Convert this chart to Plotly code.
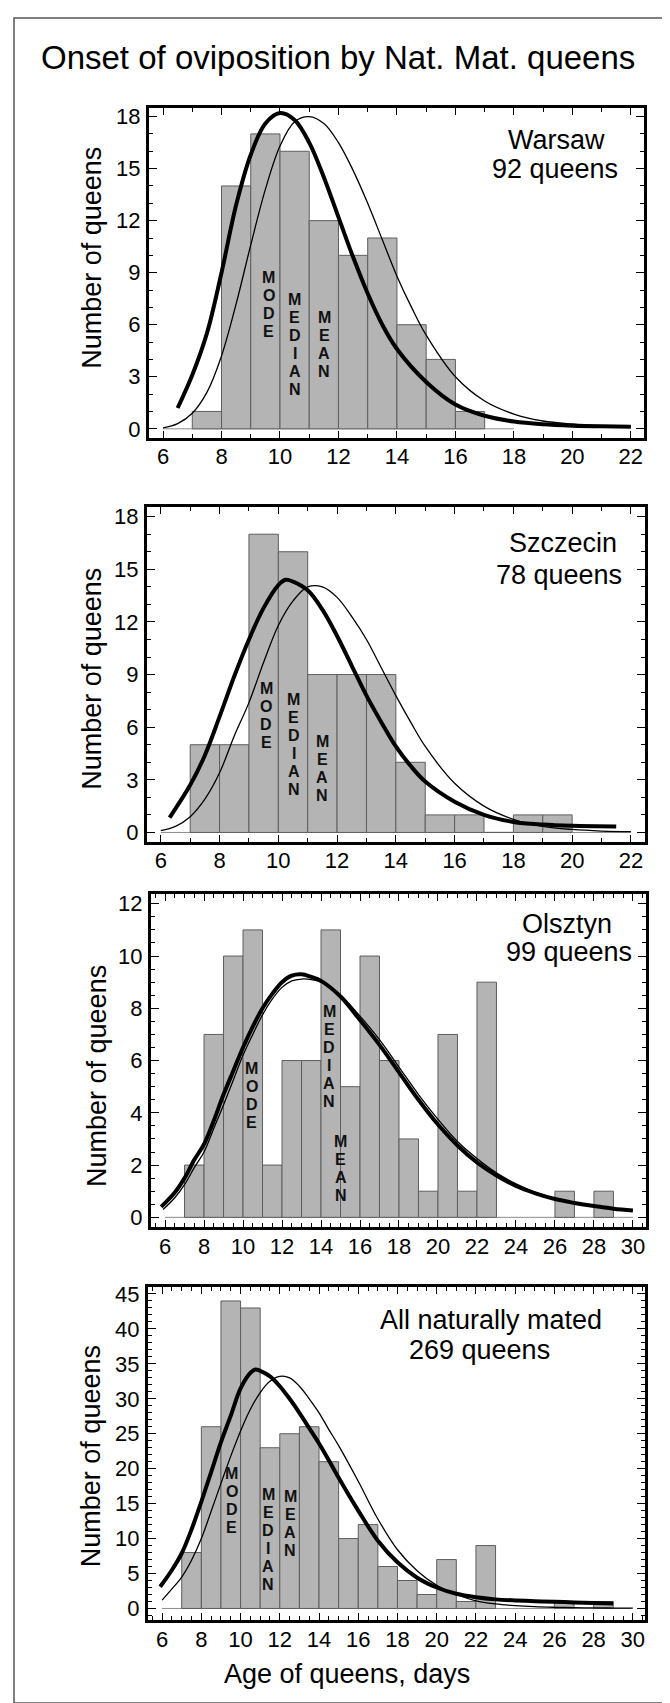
import plotly.graph_objects as go

W, H = 670, 1703
FONT = "Liberation Sans, Arial, Helvetica, sans-serif"

# ---------------- data ----------------
# Panel 1 – Warsaw
warsaw_bin_left = [7, 8, 9, 10, 11, 12, 13, 14, 15, 16]
warsaw_counts = [1, 14, 17, 16, 12, 10, 11, 6, 4, 1]
warsaw_thick_x = [6.5, 7.0, 7.5, 8.0, 8.5, 9.0, 9.5, 10.0, 10.5, 11.0, 11.5, 12.0, 12.5, 13.0,
                  13.5, 14.0, 15.0, 16.0, 17.0, 18.0, 19.0, 20.0, 21.0, 22.0]
warsaw_thick_y = [1.2, 3.1, 5.5, 9.0, 12.9, 15.8, 17.6, 18.2, 17.8, 16.5, 14.5, 12.2, 9.9, 7.8,
                  6.0, 4.6, 2.7, 1.4, 0.75, 0.42, 0.26, 0.18, 0.14, 0.12]
warsaw_thin_x = [6.0, 6.5, 7.0, 7.5, 8.0, 8.5, 9.0, 9.5, 10.0, 10.5, 11.0, 11.5, 12.0, 12.5, 13.0,
                 13.5, 14.0, 14.5, 15.0, 16.0, 17.0, 18.0, 19.0, 20.0, 21.0, 22.0]
warsaw_thin_y = [0.05, 0.3, 0.9, 2.1, 4.2, 7.2, 10.6, 13.8, 16.3, 17.7, 18.0, 17.6, 16.5, 14.9, 13.0,
                 10.9, 8.8, 7.0, 5.4, 3.0, 1.6, 0.85, 0.45, 0.28, 0.18, 0.12]

# Panel 2 – Szczecin
szczecin_bin_left = [7, 8, 9, 10, 11, 12, 13, 14, 15, 16, 17, 18, 19]
szczecin_counts = [5, 5, 17, 16, 9, 9, 9, 4, 1, 1, 0, 1, 1]
szczecin_thick_x = [6.3, 7.0, 7.5, 8.0, 8.5, 9.0, 9.5, 10.0, 10.25, 10.5, 11.0, 11.5, 12.0, 12.5,
                    13.0, 13.5, 14.0, 14.5, 15.0, 16.0, 17.0, 18.0, 19.0, 20.0, 21.5]
szczecin_thick_y = [0.85, 2.7, 4.4, 6.6, 8.9, 11.0, 12.8, 14.1, 14.4, 14.3, 13.8, 12.7, 11.2, 9.5,
                    7.8, 6.3, 4.9, 3.8, 2.9, 1.75, 1.0, 0.6, 0.45, 0.38, 0.34]
szczecin_thin_x = [6.0, 6.5, 7.0, 7.5, 8.0, 8.5, 9.0, 9.5, 10.0, 10.5, 11.0, 11.5, 12.0, 12.5, 13.0,
                   13.5, 14.0, 14.5, 15.0, 16.0, 17.0, 18.0, 19.0, 20.0, 21.0, 22.0]
szczecin_thin_y = [0.1, 0.35, 0.9, 1.9, 3.4, 5.5, 7.4, 9.7, 11.8, 13.2, 14.0, 14.0, 13.4, 12.3, 11.0,
                   9.4, 7.8, 6.3, 4.9, 2.8, 1.5, 0.75, 0.35, 0.17, 0.08, 0.05]

# Panel 3 – Olsztyn
olsztyn_bin_left = [7, 8, 9, 10, 11, 12, 13, 14, 15, 16, 17, 18, 19, 20, 21, 22, 26, 28]
olsztyn_counts = [2, 7, 10, 11, 2, 6, 6, 11, 5, 10, 6, 3, 1, 7, 1, 9, 1, 1]
olsztyn_thick_x = [5.8, 6.5, 7.0, 7.5, 8.0, 8.5, 9.0, 9.5, 10.0, 10.5, 11.0, 11.5, 12.0, 12.5, 13.0,
                   13.5, 14.0, 15.0, 16.0, 17.0, 18.0, 19.0, 20.0, 21.0, 22.0, 23.0, 24.0, 25.0,
                   26.0, 27.0, 28.0, 29.0, 30.0]
olsztyn_thick_y = [0.4, 0.95, 1.5, 2.2, 2.8, 3.7, 4.7, 5.6, 6.5, 7.3, 8.0, 8.55, 9.0, 9.25, 9.3,
                   9.2, 9.05, 8.45, 7.55, 6.6, 5.55, 4.5, 3.55, 2.75, 2.1, 1.6, 1.2, 0.92,
                   0.7, 0.55, 0.43, 0.33, 0.26]
olsztyn_thin_x = [5.9, 6.5, 7.0, 7.5, 8.0, 8.5, 9.0, 9.5, 10.0, 10.5, 11.0, 11.5, 12.0, 12.5, 13.0,
                  13.5, 14.0, 15.0, 16.0, 17.0, 18.0, 19.0, 20.0, 21.0, 22.0, 23.0, 24.0, 25.0,
                  26.0, 27.0, 28.0, 29.0, 30.0]
olsztyn_thin_y = [0.3, 0.75, 1.25, 1.9, 2.5, 3.4, 4.3, 5.25, 6.2, 7.0, 7.75, 8.35, 8.8, 9.05, 9.12,
                  9.1, 9.0, 8.5, 7.7, 6.8, 5.75, 4.7, 3.75, 2.9, 2.25, 1.7, 1.28, 0.96,
                  0.73, 0.56, 0.44, 0.34, 0.27]

# Panel 4 – all naturally mated
all_bin_left = [7, 8, 9, 10, 11, 12, 13, 14, 15, 16, 17, 18, 19, 20, 21, 22, 26, 28]
all_counts = [8, 26, 44, 43, 23, 25, 26, 21, 10, 12, 6, 4, 2, 7, 1, 9, 1, 1]
all_thick_x = [5.9, 6.5, 7.0, 7.5, 8.0, 8.5, 9.0, 9.5, 10.0, 10.5, 10.75, 11.0, 11.5, 12.0, 12.5,
               13.0, 13.5, 14.0, 14.5, 15.0, 16.0, 17.0, 18.0, 19.0, 20.0, 21.0, 22.0, 23.0,
               24.0, 25.0, 26.0, 27.0, 28.0, 29.0]
all_thick_y = [3.1, 5.5, 7.9, 11.3, 15.3, 19.5, 23.8, 27.6, 31.5, 33.7, 34.2, 34.0, 33.2, 31.8, 30.0,
               28.0, 25.8, 23.6, 21.2, 18.7, 14.0, 9.7, 6.6, 4.4, 3.0, 2.1, 1.6, 1.3,
               1.15, 1.05, 0.95, 0.87, 0.79, 0.7]
all_thin_x = [6.0, 6.5, 7.0, 7.5, 8.0, 8.5, 9.0, 9.5, 10.0, 10.5, 11.0, 11.5, 12.0, 12.5, 13.0,
              13.5, 14.0, 14.5, 15.0, 16.0, 17.0, 18.0, 19.0, 20.0, 21.0, 22.0, 23.0, 24.0,
              25.0, 26.0, 27.0, 28.0, 29.0, 30.0]
all_thin_y = [1.2, 2.8, 4.5, 6.9, 10.0, 13.9, 17.9, 21.8, 25.4, 28.5, 30.9, 32.5, 33.2, 33.0, 31.8,
              30.0, 28.0, 25.6, 23.3, 18.2, 12.8, 8.4, 5.4, 3.3, 2.0, 1.1, 0.65, 0.4,
              0.25, 0.17, 0.12, 0.08, 0.06, 0.05]

panel_labels = [["Warsaw", "92 queens"], ["Szczecin", "78 queens"],
                ["Olsztyn", "99 queens"], ["All naturally mated", "269 queens"]]
# label centres in data-x, pixel-y
label_x = [[19.45, 19.42], [19.7, 19.55], [26.6, 26.7], [22.75, 22.2]]
label_py = [[128, 157], [533, 565], [915, 943], [1313, 1343]]
stat_words = ["MODE", "MEDIAN", "MEAN"]
# position (x, y of first letter) of the vertical MODE / MEDIAN / MEAN labels
stat_x = [[9.62, 10.5, 11.51], [9.59, 10.53, 11.5], [10.46, 14.41, 15.01], [9.56, 11.42, 12.54]]
stat_y = [[8.72, 7.48, 6.41], [8.22, 7.56, 5.16], [5.71, 7.87, 2.90], [19.36, 16.37, 16.04]]

title_text = "Onset of oviposition by Nat. Mat. queens"
y_title = "Number of queens"
x_title = "Age of queens, days"

# ---------------- layout geometry (pixels) ----------------
# frame left, right, top, bottom
frames = [(141, 636, 95.7, 427), (139, 637, 496, 833), (143, 638, 885, 1220), (140, 637, 1280, 1615)]
xranges = [[5.52, 22.45], [5.53, 22.48], [5.28, 30.67], [5.28, 30.62]]
yranges = [[-0.53, 18.48], [-0.55, 18.57], [-0.38, 12.38], [-1.71, 46.0]]
ymajor = [3, 3, 2, 5]
yminor = [1, 1, 0.5, 1]
xminor = [1, 1, 0.5, 0.5]
baseline_end = [18, 22, 30, 29.9]
ytitle_pos = [(84, 246), (84, 669), (89, 1068), (83, 1450)]

datasets = [
    (warsaw_bin_left, warsaw_counts, warsaw_thick_x, warsaw_thick_y, warsaw_thin_x, warsaw_thin_y),
    (szczecin_bin_left, szczecin_counts, szczecin_thick_x, szczecin_thick_y, szczecin_thin_x, szczecin_thin_y),
    (olsztyn_bin_left, olsztyn_counts, olsztyn_thick_x, olsztyn_thick_y, olsztyn_thin_x, olsztyn_thin_y),
    (all_bin_left, all_counts, all_thick_x, all_thick_y, all_thin_x, all_thin_y),
]

fig = go.Figure()
annotations = []
shapes = []
layout_axes = {}

for i, (bl, cnt, tkx, tky, tnx, tny) in enumerate(datasets):
    n = "" if i == 0 else str(i + 1)
    xa, ya = "x" + n, "y" + n
    L, R, T, B = frames[i]
    fig.add_trace(go.Bar(x=[b + 0.5 for b in bl], y=cnt, width=1,
                         marker=dict(color="#b4b4b4", line=dict(color="#5e5e5e", width=1)),
                         xaxis=xa, yaxis=ya, hoverinfo="skip"))
    fig.add_trace(go.Scatter(x=tnx, y=tny, mode="lines",
                             line=dict(color="black", width=1.3, shape="spline", smoothing=1.0),
                             xaxis=xa, yaxis=ya))
    fig.add_trace(go.Scatter(x=tkx, y=tky, mode="lines",
                             line=dict(color="black", width=4, shape="spline", smoothing=1.0),
                             xaxis=xa, yaxis=ya))
    common = dict(ticks="inside", tickcolor="black", tickwidth=1, showline=True, linewidth=3,
                  linecolor="black", mirror="allticks", showgrid=False, zeroline=False,
                  tickfont=dict(family=FONT, size=22, color="black"))
    layout_axes["xaxis" + n] = dict(
        domain=[L / W, R / W], range=xranges[i], anchor=ya, tick0=6, dtick=2, ticklen=7,
        ticklabelstandoff=-3,
        minor=dict(tick0=6, dtick=xminor[i], ticks="inside", ticklen=4, tickcolor="black", showgrid=False),
        **common)
    layout_axes["yaxis" + n] = dict(
        domain=[1 - B / H, 1 - T / H], range=yranges[i], anchor=xa, tick0=0, dtick=ymajor[i], ticklen=8,
        ticklabelstandoff=1,
        minor=dict(tick0=0, dtick=yminor[i], ticks="inside", ticklen=4, tickcolor="black", showgrid=False),
        **common)
    # baseline at zero
    shapes.append(dict(type="line", xref=xa, yref=ya, x0=6, x1=baseline_end[i], y0=0, y1=0,
                       line=dict(color="#8a8a8a", width=1), layer="below"))
    # location labels
    for lx, py, txt in zip(label_x[i], label_py[i], panel_labels[i]):
        annotations.append(dict(text=txt, xref=xa, yref="paper", x=lx, y=1 - py / H,
                                xanchor="center", yanchor="middle", showarrow=False,
                                font=dict(family=FONT, size=27, color="black")))
    # MODE / MEDIAN / MEAN vertical labels
    for w, word in enumerate(stat_words):
        for k, ch in enumerate(word):
            annotations.append(dict(text="<b>" + ch + "</b>", xref=xa, yref=ya,
                                    x=stat_x[i][w], y=stat_y[i][w], yshift=-18 * k,
                                    xanchor="center", yanchor="middle", showarrow=False,
                                    font=dict(family=FONT, size=16, color="#111111")))
    # y-axis title
    px, py = ytitle_pos[i]
    annotations.append(dict(text=y_title, xref="paper", yref="paper", x=px / W, y=1 - py / H,
                            xanchor="center", yanchor="middle", textangle=-90, showarrow=False,
                            font=dict(family=FONT, size=27, color="black")))

annotations.append(dict(text=title_text, xref="paper", yref="paper", x=330 / W, y=1 - 45 / H,
                        xanchor="center", yanchor="middle", showarrow=False,
                        font=dict(family=FONT, size=33, color="black")))
annotations.append(dict(text=x_title, xref="paper", yref="paper", x=339 / W, y=1 - 1669 / H,
                        xanchor="center", yanchor="middle", showarrow=False,
                        font=dict(family=FONT, size=27, color="black")))

shapes.append(dict(type="rect", xref="paper", yref="paper", x0=6 / W, x1=665 / W,
                   y0=1 - 1698 / H, y1=1 - 5 / H, line=dict(color="#555555", width=1.5)))

fig.update_layout(width=W, height=H, margin=dict(l=0, r=0, t=0, b=0),
                  paper_bgcolor="white", plot_bgcolor="white", showlegend=False,
                  barmode="overlay", annotations=annotations, shapes=shapes, **layout_axes)

fig.write_html("out.html")
